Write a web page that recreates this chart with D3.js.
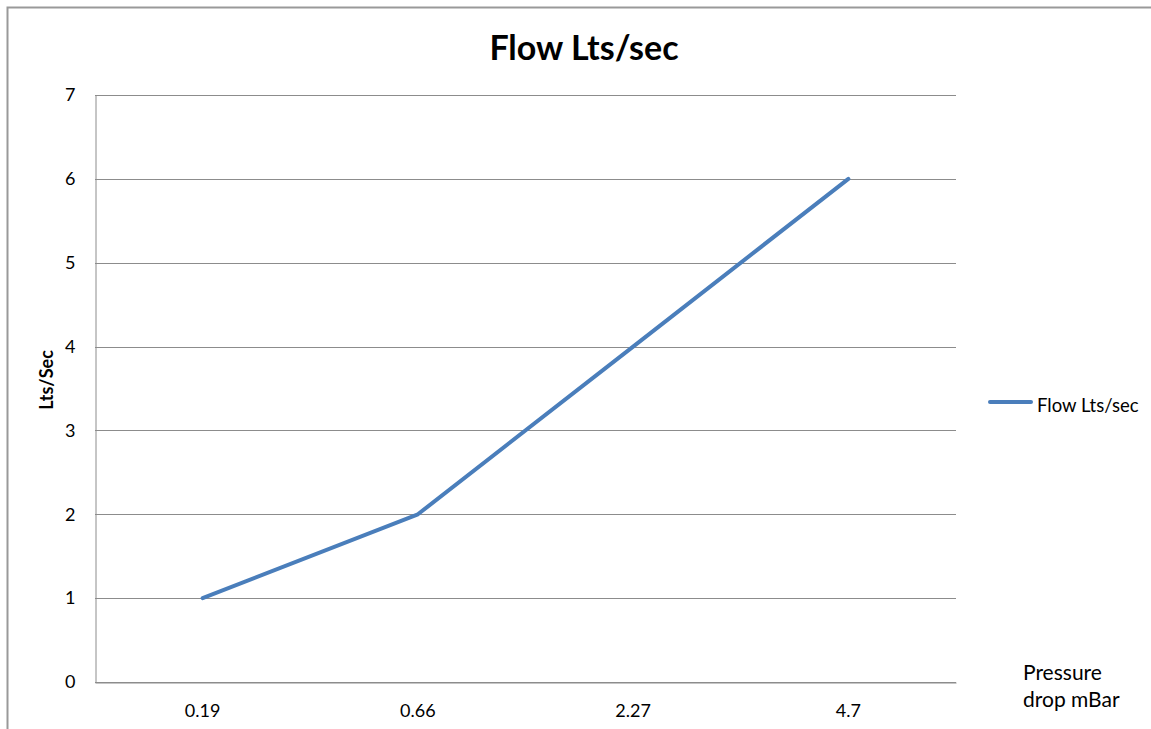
<!DOCTYPE html>
<html>
<head>
<meta charset="utf-8">
<script src="https://cdn.jsdelivr.net/npm/d3@7"></script>
<style>
  body { margin: 0; background: #fff; }
  svg { font-family: Lato, "Open Sans", sans-serif; }
</style>
</head>
<body>
<svg id="chart" width="1151" height="729"></svg>
<script>
// chart data
const categories = ['0.19', '0.66', '2.27', '4.7'];
const flow = [1, 2, 4, 6];
const yTicks = [0, 1, 2, 3, 4, 5, 6, 7];
const seriesName = 'Flow Lts/sec';

const svg = d3.select('#chart');
const plot = { left: 95, right: 956, top: 95, bottom: 682 };
const font = 'Lato, "Open Sans", sans-serif';

// outer chart border (right and bottom run off the picture)
svg.append('rect')
    .attr('x', 7.5).attr('y', 7.5)
    .attr('width', 1160).attr('height', 740)
    .attr('fill', 'none')
    .attr('stroke', '#999')
    .attr('stroke-width', 2);

const x = d3.scaleBand()
    .domain(categories)
    .range([plot.left, plot.right]);

const y = d3.scaleLinear()
    .domain([0, 7])
    .range([plot.bottom, plot.top]);

// gridlines
svg.append('g')
    .selectAll('line')
    .data(yTicks)
    .enter().append('line')
    .attr('x1', plot.left).attr('x2', plot.right)
    .attr('y1', d => Math.round(y(d)) + 0.5)
    .attr('y2', d => Math.round(y(d)) + 0.5)
    .attr('stroke', '#8c8c8c')
    .attr('stroke-width', 1);

// y axis
const yAxis = svg.append('g')
    .attr('transform', `translate(${plot.left + 0.5},0)`)
    .call(d3.axisLeft(y).tickValues(yTicks).tickFormat(d3.format('d')).tickSize(0).tickPadding(20));
yAxis.select('.domain').attr('stroke', '#8c8c8c');
yAxis.selectAll('text').attr('font-size', 18).attr('fill', '#000')
    .attr('font-family', font);

// x axis
const xAxis = svg.append('g')
    .attr('transform', `translate(0,${Math.round(y(0)) + 0.5})`)
    .call(d3.axisBottom(x).tickSize(0).tickPadding(22));
xAxis.select('.domain').attr('stroke', '#8c8c8c');
xAxis.selectAll('text').attr('font-size', 18).attr('fill', '#000')
    .attr('font-family', font);

// series line
const line = d3.line()
    .x((d, i) => x(categories[i]) + x.bandwidth() / 2)
    .y(d => y(d));

svg.append('path')
    .datum(flow)
    .attr('d', line)
    .attr('fill', 'none')
    .attr('stroke', '#4a7ebb')
    .attr('stroke-width', 4)
    .attr('stroke-linecap', 'round')
    .attr('stroke-linejoin', 'round');

// title
svg.append('text')
    .attr('x', 584).attr('y', 60)
    .attr('text-anchor', 'middle')
    .attr('font-size', 34)
    .attr('font-weight', 'bold')
    .text('Flow Lts/sec');

// y axis title
svg.append('text')
    .attr('transform', 'translate(53,380) rotate(-90)')
    .attr('text-anchor', 'middle')
    .attr('font-size', 18)
    .attr('font-weight', 'bold')
    .text('Lts/Sec');

// x axis title (two lines)
const xt = svg.append('text')
    .attr('x', 1023).attr('y', 680)
    .attr('font-size', 21);
xt.append('tspan').attr('x', 1023).text('Pressure');
xt.append('tspan').attr('x', 1023).attr('dy', 27).text('drop mBar');

// legend
const legend = svg.append('g').attr('transform', 'translate(990,402)');
legend.append('line')
    .attr('x1', 0).attr('x2', 41)
    .attr('stroke', '#4a7ebb')
    .attr('stroke-width', 4)
    .attr('stroke-linecap', 'round');
legend.append('text')
    .attr('x', 47).attr('y', 10)
    .attr('font-size', 18.5)
    .text(seriesName);
</script>
</body>
</html>
